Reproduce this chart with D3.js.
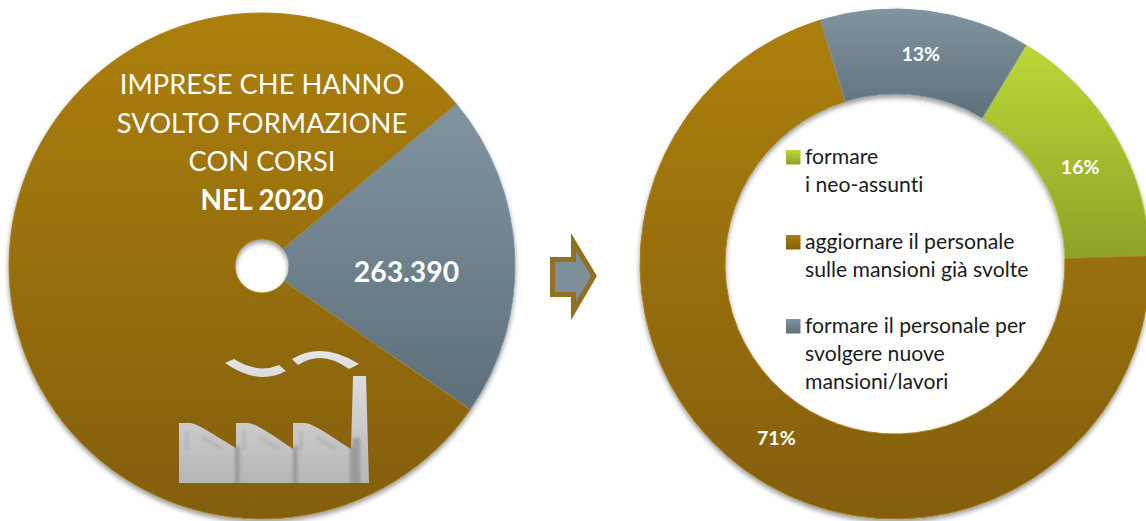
<!DOCTYPE html>
<html>
<head>
<meta charset="utf-8">
<script src="https://cdn.jsdelivr.net/npm/d3@7"></script>
<style>
  html, body { margin: 0; padding: 0; background: #fff; }
  text { font-family: Lato, "Open Sans", sans-serif; font-variant-ligatures: none; }
</style>
</head>
<body>
<div id="chart"></div>
<script>
// left pie
var leftNames = ["formazione", "altro"];
var leftShares = [20.7, 79.3];
var leftColors = ["blue", "brown"];
var titleLines = ["IMPRESE CHE HANNO", "SVOLTO FORMAZIONE", "CON CORSI"];
var titleBold = "NEL 2020";
var totalLabel = "263.390";

// right donut
var reasons = ["neo", "aggiornare", "nuove"];
var reasonShares = [15.9, 70.8, 13.3];
var reasonLabels = ["16%", "71%", "13%"];
var reasonColors = ["green", "brown", "blue"];
var legendLines = [
  ["formare", "i neo-assunti"],
  ["aggiornare il personale", "sulle mansioni già svolte"],
  ["formare il personale per", "svolgere nuove", "mansioni/lavori"]
];

var gradients = {
  brown: { top: "#ac7f0b", bottom: "#835e08", edge: "#a8831f" },
  blue: { top: "#80949f", bottom: "#5d6f7a", edge: "#7f95a3" },
  green: { top: "#bcd836", bottom: "#8ea229", edge: "#b0cc38" }
};

var width = 1146, height = 521;
var rad = Math.PI / 180;

var svg = d3.select("#chart").append("svg")
  .attr("width", width)
  .attr("height", height)
  .style("display", "block");

var defs = svg.append("defs");

Object.keys(gradients).forEach(function(k) {
  var g = defs.append("linearGradient")
    .attr("id", "grad-" + k)
    .attr("x1", 0).attr("y1", 0).attr("x2", 0).attr("y2", 1);
  g.append("stop").attr("offset", "0%").attr("stop-color", gradients[k].top);
  g.append("stop").attr("offset", "100%").attr("stop-color", gradients[k].bottom);
});

var factoryGrad = defs.append("linearGradient")
  .attr("id", "grad-factory")
  .attr("gradientUnits", "userSpaceOnUse")
  .attr("x1", 0).attr("y1", 350).attr("x2", 0).attr("y2", 483);
factoryGrad.append("stop").attr("offset", "0%").attr("stop-color", "#e6e6e6");
factoryGrad.append("stop").attr("offset", "100%").attr("stop-color", "#b6b6b6");

var shadow = defs.append("filter")
  .attr("id", "shadow")
  .attr("x", "-5%").attr("y", "-5%").attr("width", "110%").attr("height", "110%");
shadow.append("feDropShadow")
  .attr("dx", 0).attr("dy", 3).attr("stdDeviation", 2.5)
  .attr("flood-color", "#000").attr("flood-opacity", 0.4);

defs.append("filter").attr("id", "soft")
  .append("feGaussianBlur").attr("stdDeviation", 1.4);

defs.append("clipPath").attr("id", "factory-clip")
  .append("path").attr("d", factoryPath());

function drawRing(cx, cy, outer, inner, start, shares, colors) {
  var pie = d3.pie().sort(null)
    .startAngle(start * rad)
    .endAngle(start * rad + 2 * Math.PI);
  var arc = d3.arc().innerRadius(inner).outerRadius(outer);
  var g = svg.append("g")
    .attr("transform", "translate(" + cx + "," + cy + ")")
    .attr("filter", "url(#shadow)");
  var pieces = pie(shares);
  g.selectAll("path")
    .data(pieces)
    .enter().append("path")
      .attr("d", arc)
      .attr("fill", function(d, i) { return "url(#grad-" + colors[i] + ")"; })
      .attr("stroke", function(d, i) { return gradients[colors[i]].edge; })
      .attr("stroke-width", 1);
  return pieces.map(function(p) { return arc.centroid(p); });
}

// left pie
var leftCx = 262, leftCy = 266;
drawRing(leftCx, leftCy, 253, 27, 50.1, leftShares, leftColors);

svg.selectAll(".title")
  .data(titleLines)
  .enter().append("text")
    .attr("class", "title")
    .attr("x", leftCx)
    .attr("y", function(d, i) { return 94 + i * 38.5; })
    .attr("text-anchor", "middle")
    .attr("font-size", 27.3)
    .attr("fill", "#fff")
    .text(function(d) { return d; });

svg.append("text")
  .attr("x", leftCx)
  .attr("y", 210)
  .attr("text-anchor", "middle")
  .attr("font-size", 28)
  .attr("font-weight", 700)
  .attr("fill", "#fff")
  .text(titleBold);

svg.append("text")
  .attr("x", 406.5)
  .attr("y", 282)
  .attr("text-anchor", "middle")
  .attr("font-size", 28.4)
  .attr("font-weight", 700)
  .attr("fill", "#fff")
  .text(totalLabel);

// factory icon
function factoryPath() {
  return "M179,483V423H190C198,423 220,439 236,448V423H248C256,423 278,439 293,449V423H305C313,423 335,439 351,449" +
    "L353,376H366L369,483Z";
}

var factory = svg.append("g");
factory.append("path")
  .attr("d", factoryPath())
  .attr("fill", "url(#grad-factory)");
factory.append("path")
  .attr("d", "M225,363L234,359Q258,374 279,365L286,371Q258,386 225,363Z")
  .attr("fill", "url(#grad-factory)");
factory.append("path")
  .attr("d", "M292,359Q322,341 359,364L349,369Q322,349 298,365Z")
  .attr("fill", "url(#grad-factory)");

var seams = factory.append("g")
  .attr("clip-path", "url(#factory-clip)")
  .append("g")
  .attr("filter", "url(#soft)")
  .attr("fill", "#8c8c8c")
  .attr("opacity", 0.7);
[235, 293, 350].forEach(function(x) {
  seams.append("rect")
    .attr("x", x).attr("y", 446).attr("width", 4.5).attr("height", 38);
});
seams.append("rect").attr("x", 353).attr("y", 438).attr("width", 7).attr("height", 46);

// smudges along the saw roofs
var smudges = factory.append("g")
  .attr("clip-path", "url(#factory-clip)")
  .append("g")
  .attr("filter", "url(#soft)")
  .attr("fill", "none")
  .attr("stroke", "#a3a3a3")
  .attr("stroke-width", 2.5)
  .attr("opacity", 0.6);
[0, 57, 114].forEach(function(dx) {
  smudges.append("path")
    .attr("d", "M" + (187 + dx) + ",431V450M" + (202 + dx) + ",437L" + (222 + dx) + ",449");
});

// arrow
var arrowPoints = [
  [552.5, 259.5], [573.5, 259.5], [573.5, 242], [594, 276],
  [573.5, 311], [573.5, 294.5], [552.5, 294.5]
];
svg.append("path")
  .attr("d", d3.line()(arrowPoints) + "Z")
  .attr("fill", "#7c8f9b")
  .attr("stroke", "#93701f")
  .attr("stroke-width", 5)
  .attr("stroke-miterlimit", 10);

// right donut
var rightCx = 895, rightCy = 264;
var rightCentroids = drawRing(rightCx, rightCy, 255, 170, 30.9, reasonShares, reasonColors);

var labelNudge = [[2, 11.5], [5, 2.5], [0, 2]];
svg.selectAll(".pct")
  .data(reasonLabels)
  .enter().append("text")
    .attr("class", "pct")
    .attr("x", function(d, i) { return rightCx + rightCentroids[i][0] + labelNudge[i][0]; })
    .attr("y", function(d, i) { return rightCy + rightCentroids[i][1] + labelNudge[i][1] + 6; })
    .attr("text-anchor", "middle")
    .attr("font-size", 19.5)
    .attr("font-weight", 700)
    .attr("fill", "#fff")
    .text(function(d) { return d; });

// legend
var legendTop = [150, 235, 319];
var legend = svg.selectAll(".legend")
  .data(reasons)
  .enter().append("g")
    .attr("class", "legend")
    .attr("transform", function(d, i) { return "translate(786," + legendTop[i] + ")"; });

legend.append("rect")
  .attr("width", 14.5)
  .attr("height", 14.5)
  .attr("fill", function(d, i) { return "url(#grad-" + reasonColors[i] + ")"; });

legend.each(function(d, i) {
  d3.select(this).selectAll("text")
    .data(legendLines[i])
    .enter().append("text")
      .attr("x", 19)
      .attr("y", function(t, j) { return 13.5 + j * 28; })
      .attr("font-size", 21.2)
      .attr("fill", "#1c1c1c")
      .text(function(t) { return t; });
});
</script>
</body>
</html>
